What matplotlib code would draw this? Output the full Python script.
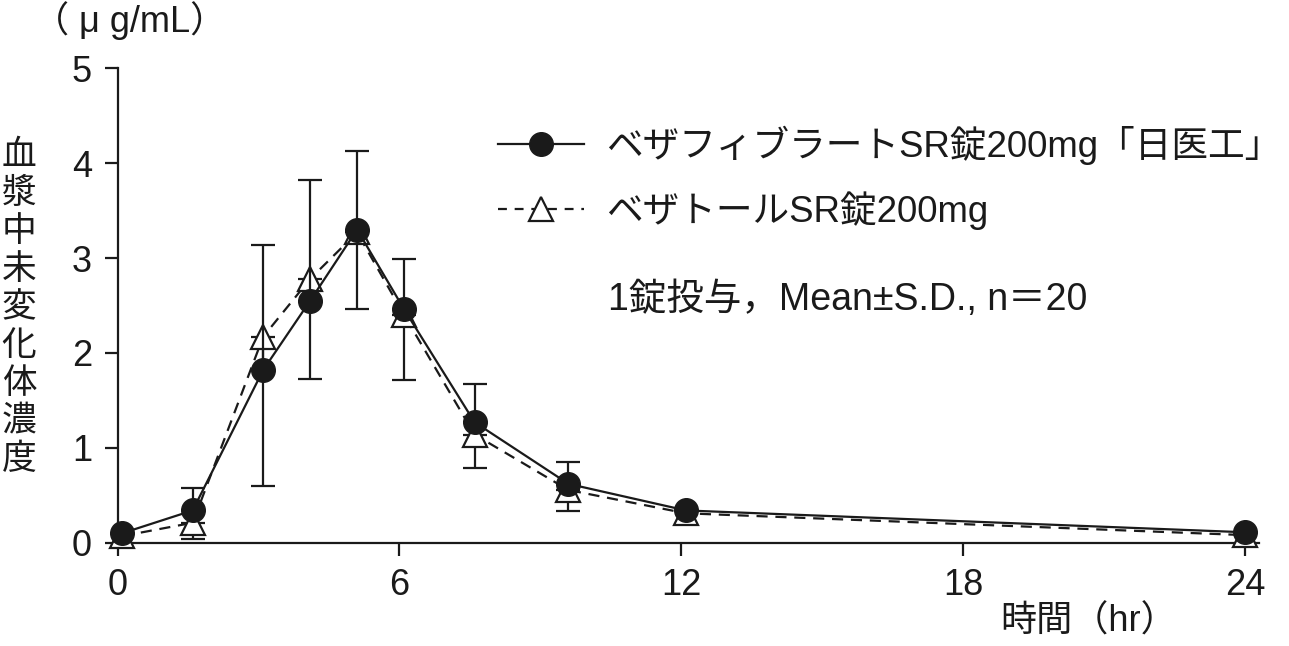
import numpy as np
import matplotlib
matplotlib.use('Agg')
import matplotlib.pyplot as plt
from matplotlib.lines import Line2D

plt.rcParams['font.family'] = ['Liberation Sans', 'Noto Sans CJK JP']

# sampling times (hr)
time_hr = np.array([0.1, 1.6, 3.1, 4.1, 5.1, 6.1, 7.6, 9.6, 12.1, 24.0])

# ベザフィブラートSR錠200mg「日医工」 (upper S.D. drawn)
generic_mean = np.array([0.10, 0.34, 1.82, 2.55, 3.30, 2.46, 1.27, 0.62, 0.34, 0.11])
generic_sd = np.array([0.0, 0.24, 1.32, 1.27, 0.83, 0.53, 0.40, 0.23, 0.0, 0.0])

# ベザトールSR錠200mg (lower S.D. drawn)
brand_mean = np.array([0.07, 0.21, 2.17, 2.78, 3.27, 2.40, 1.14, 0.555, 0.31, 0.08])
brand_sd = np.array([0.0, 0.17, 1.57, 1.05, 0.81, 0.68, 0.35, 0.225, 0.0, 0.0])

x_ticks = [0, 6, 12, 18, 24]
y_ticks = [0, 1, 2, 3, 4, 5]

generic_label = 'ベザフィブラートSR錠200mg「日医工」'
brand_label = 'ベザトールSR錠200mg'
note_text = '1錠投与，Mean±S.D., n＝20'
ylabel_chars = '血漿中未変化体濃度'
unit_text = '（ μ g/mL）'
xlabel_text = '時間（hr）'

ink = '#1a1a1a'
dash = (0, (5, 3.5))
lw = 1.6

fig = plt.figure(figsize=(12.89, 6.46), dpi=100)
ax = fig.add_axes([0.0912, 0.1599, 0.8855, 0.7344])

# reference product underneath
ax.plot(time_hr, brand_mean, linestyle=dash, color=ink, lw=lw,
        marker='^', ms=17, mfc='white', mec=ink, mew=1.6,
        clip_on=False, zorder=4)
m = brand_sd > 0
ax.errorbar(time_hr[m], brand_mean[m], yerr=[brand_sd[m], np.zeros(m.sum())],
            fmt='none', ecolor=ink, elinewidth=lw, capsize=8.6, capthick=lw,
            clip_on=False, zorder=3)

ax.plot(time_hr, generic_mean, linestyle='-', color=ink, lw=lw,
        marker='o', ms=17, mfc=ink, mec=ink, mew=1.0,
        clip_on=False, zorder=6)
m = generic_sd > 0
ax.errorbar(time_hr[m], generic_mean[m], yerr=[np.zeros(m.sum()), generic_sd[m]],
            fmt='none', ecolor=ink, elinewidth=lw, capsize=8.6, capthick=lw,
            clip_on=False, zorder=5)

ax.set_xlim(0, 24.3)
ax.set_ylim(0, 5)
ax.set_xticks(x_ticks)
ax.set_yticks(y_ticks)
for side in ['top', 'right']:
    ax.spines[side].set_visible(False)
for side in ['left', 'bottom']:
    ax.spines[side].set_linewidth(lw)
    ax.spines[side].set_color(ink)
ax.tick_params(direction='out', length=9.4, width=lw, pad=9,
               labelsize=26, colors=ink)

# legend
handles = [
    Line2D([], [], color=ink, lw=lw, marker='o', ms=17, mfc=ink, mec=ink),
    Line2D([], [], color=ink, lw=lw, linestyle=(0, (4, 3.5)), marker='^',
           ms=17, mfc='white', mec=ink, mew=1.6),
]
ax.legend(handles, [generic_label, brand_label], loc='center left',
          bbox_to_anchor=(498 / 1289, 1 - 178 / 646), bbox_transform=fig.transFigure,
          frameon=False, fontsize=26.4, handlelength=2.35, handletextpad=0.6,
          labelspacing=0.72, borderpad=0, borderaxespad=0, labelcolor=ink)

fig.text(608 / 1289, 1 - 300 / 646, note_text, fontsize=27, color=ink,
         ha='left', va='center')

# vertical y label, one character per line
for i, ch in enumerate(ylabel_chars):
    fig.text(19 / 1289, 1 - (156 + 38 * i) / 646, ch, fontsize=25,
             color=ink, ha='center', va='center')

fig.text(33 / 1289, 1 - 21 / 646, unit_text, fontsize=26, color=ink,
         ha='left', va='center')
fig.text(1177 / 1289, 1 - 622 / 646, xlabel_text, fontsize=26, color=ink,
         ha='right', va='center')

fig.savefig('out.png', dpi=100, facecolor='white')
